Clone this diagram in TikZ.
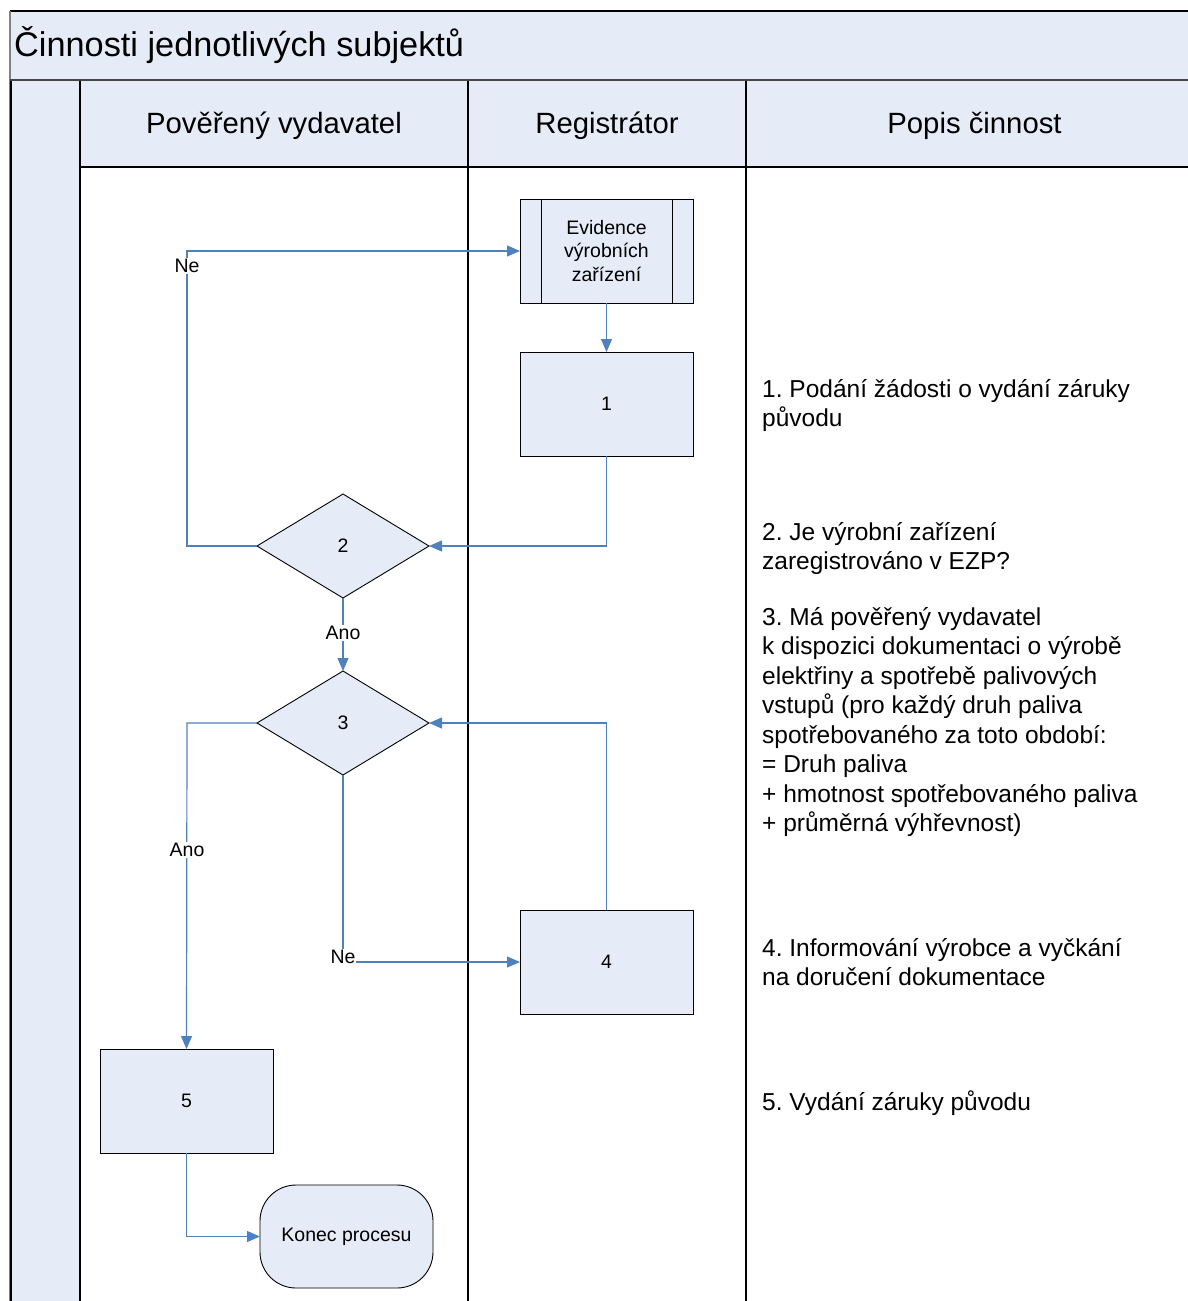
\documentclass[tikz,border=0pt]{standalone}
\usepackage{fontspec}
\setmainfont{Liberation Sans}
\usetikzlibrary{shapes.geometric,arrows.meta}
\definecolor{lanefill}{RGB}{230,236,247}
\definecolor{conncol}{RGB}{79,129,189}
\definecolor{darkline}{RGB}{70,70,70}
\frenchspacing
\tikzset{
  boxfont/.style={font=\fontsize{19.5}{23.5}\selectfont},
  procbox/.style={draw=black, line width=0.9pt, fill=lanefill, minimum width=173pt, minimum height=104pt, inner sep=0pt, outer sep=0pt, boxfont, align=center},
  decision/.style={draw=black, line width=0.9pt, fill=lanefill, diamond, aspect=1.654, minimum width=172pt, minimum height=104pt, inner sep=0pt, outer sep=0pt, boxfont},
  termbox/.style={draw=black, line width=0.9pt, fill=lanefill, rounded corners=36pt, minimum width=173pt, minimum height=103pt, inner sep=0pt, outer sep=0pt, boxfont},
  conn/.style={draw=conncol, line width=1.2pt, -{Triangle[length=13pt,width=11pt,fill=conncol]}},
  lbl/.style={fill=white, inner sep=1pt, boxfont},
  desc/.style={anchor=base west, inner sep=0pt, font=\fontsize{24.5}{29.5}\selectfont},
  hdr/.style={font=\fontsize{29.3}{34}\selectfont},
}
\begin{document}
\begin{tikzpicture}[x=1pt,y=-1pt]
\useasboundingbox (0,0) rectangle (1188,1301);
\clip (0,0) rectangle (1188,1301);
% title band
\fill[lanefill] (10,11) rectangle (1200,80);
\draw[black, line width=1.3pt] (10,11) -- (1200,11);
\draw[gray, line width=1.3pt] (10,11) -- (10,1310);
% left column
\fill[lanefill] (10,80) rectangle (80,1310);
% lane headers
\fill[lanefill] (80,80) rectangle (1200,167);
\draw[black, line width=1.3pt] (80,167) -- (1200,167);
\draw[darkline, line width=2.6pt] (10,80) -- (1200,80);
\draw[black, line width=1.3pt] (11,81) -- (11,1310);
\draw[black, line width=1.3pt] (80,81) -- (80,1310);
\draw[black, line width=1.3pt] (468,81) -- (468,1310);
\draw[black, line width=1.3pt] (746,81) -- (746,1310);
\node[anchor=west, inner sep=0pt, font=\fontsize{34.3}{38}\selectfont] (title) at (14,45) {Činnosti jednotlivých subjektů};
\node[hdr] (h1) at (274,126) {Pověřený vydavatel};
\node[hdr] (h2) at (607,126) {Registrátor};
\node[hdr] (h3) at (974.5,126) {Popis činnost};

% nodes
\node[procbox] (ev) at (606.5,251) {Evidence\\výrobních\\zařízení};
\draw[black, line width=0.9pt] ([xshift=21pt]ev.north west) -- ([xshift=21pt]ev.south west);
\draw[black, line width=0.9pt] ([xshift=-21pt]ev.north east) -- ([xshift=-21pt]ev.south east);
\node[procbox] (b1) at (606.5,404) {1};
\node[decision] (d2) at (343,546) {2};
\node[decision] (d3) at (343,723) {3};
\node[procbox] (b4) at (606.5,962) {4};
\node[procbox] (b5) at (186.5,1101) {5};
\node[termbox] (end) at (346.5,1236.5) {Konec procesu};

% connectors
\coordinate (cNe) at (187,546);
\coordinate (cAno) at (187,723);
\draw[conn] (ev.south) -- (b1.north);
\draw[conn] (b1.south) |- (d2.east);
\draw[conn] (d2.west) -- (cNe) |- (ev.west);
\draw[conn] (d2.south) -- (d3.north);
\draw[conn] (d3.west) -- (cAno) -- (b5.north);
\draw[conn] (d3.south) |- (b4.west);
\draw[conn] (b4.north) |- (d3.east);
\draw[conn] (b5.south) |- (end.west);

% labels
\node[lbl] (lNe1) at (187,266) {Ne};
\node[lbl] (lAno1) at (343,633) {Ano};
\node[lbl] (lAno2) at (187,850) {Ano};
\node[lbl] (lNe2) at (343,957) {Ne};

% descriptions
\node[desc] (t1) at (762,397) {\parbox[t]{420pt}{\raggedright 1. Podání žádosti o vydání záruky\\původu}};
\node[desc] (t2) at (762,540) {\parbox[t]{420pt}{\raggedright 2. Je výrobní zařízení\\zaregistrováno v EZP?}};
\node[desc] (t3) at (762,625) {\parbox[t]{420pt}{\raggedright 3. Má pověřený vydavatel\\k dispozici dokumentaci o výrobě\\elektřiny a spotřebě palivových\\vstupů (pro každý druh paliva\\spotřebovaného za toto období:\\= Druh paliva\\+ hmotnost spotřebovaného paliva\\+ průměrná výhřevnost)}};
\node[desc] (t4) at (762,956) {\parbox[t]{420pt}{\raggedright 4. Informování výrobce a vyčkání\\na doručení dokumentace}};
\node[desc] (t5) at (762,1110) {\parbox[t]{420pt}{\raggedright 5. Vydání záruky původu}};
\end{tikzpicture}
\end{document}
